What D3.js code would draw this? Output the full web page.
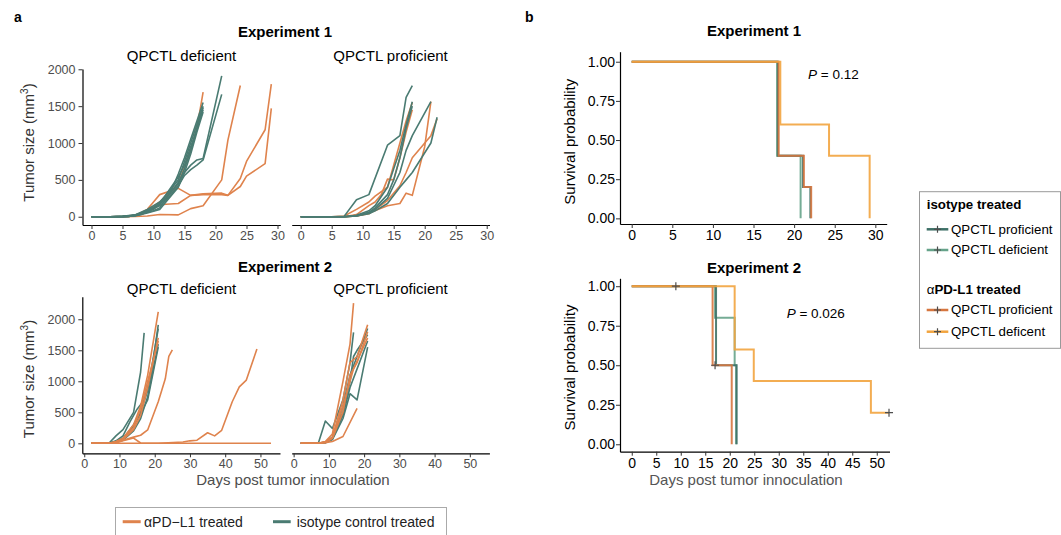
<!DOCTYPE html>
<html>
<head>
<meta charset="utf-8">
<script src="https://cdn.jsdelivr.net/npm/d3@7"></script>
<style>
  body { margin: 0; background: #fff; }
  svg { font-family: "Liberation Sans", Arial, sans-serif; }
</style>
</head>
<body>
<div id="container"></div>
<script>
// ---- tick labels ----
const daysTicksExp1 = [0, 5, 10, 15, 20, 25, 30];
const daysTicksExp2 = [0, 10, 20, 30, 40, 50];
const sizeTicks = [0, 500, 1000, 1500, 2000];
const survTicks = [0, 0.25, 0.5, 0.75, 1];
const survDaysExp1 = [0, 5, 10, 15, 20, 25, 30];
const survDaysExp2 = [0, 5, 10, 15, 20, 25, 30, 35, 40, 45, 50];

// ---- tumor growth, [day, mm3] per mouse ----
const exp1DefAnti = [
  [[0,0],[3,0],[5,5],[7,20],[9,80],[11,200],[12,280],[14,450],[16,900],[17,1200],[18,1690]],
  [[0,0],[3,0],[5,0],[7,5],[9,10],[11,30],[14,25],[16,110],[18,150],[21,500],[22,1040],[24,1780]],
  [[0,0],[5,0],[7,10],[9,60],[11,160],[12,170],[14,180],[16,290],[18,300],[21,300],[22,290],[24,520],[25,750],[28,1180],[29,1800]],
  [[0,0],[5,0],[7,10],[9,100],[10,200],[11,300],[14,385],[16,290],[18,310],[21,320],[22,290],[24,410],[25,550],[28,720],[29,1470]]
];
const exp1DefIso = [
  [[0,0],[3,0],[5,5],[7,20],[9,80],[10,120],[11,170],[12,250],[13,380],[14,580],[15,800],[16,1050],[17,1300],[18,1550]],
  [[0,0],[3,0],[5,5],[7,25],[9,100],[10,150],[11,200],[12,290],[14,500],[15,750],[16,1000],[17,1250],[18,1500]],
  [[0,0],[3,0],[5,0],[7,15],[9,60],[10,80],[11,120],[12,240],[13,350],[14,450],[15,650],[16,900],[17,1200],[18,1450]],
  [[0,0],[3,0],[6,5],[8,40],[10,100],[11,180],[12,300],[14,540],[15,700],[16,950],[17,1180],[18,1480]],
  [[0,0],[5,0],[7,10],[9,50],[11,100],[12,200],[14,400],[15,600],[16,850],[17,1150],[18,1420]],
  [[0,0],[3,0],[6,5],[8,40],[9,90],[10,130],[11,180],[12,260],[13,350],[14,470],[15,600],[16,700],[17,770],[18,790],[21,1910]],
  [[0,0],[3,0],[6,5],[8,30],[9,70],[10,110],[11,150],[12,220],[13,320],[14,420],[15,560],[16,640],[17,700],[18,770],[21,1660]]
];
const exp1ProfAnti = [
  [[0,0],[5,0],[7,10],[9,100],[11,200],[12,280],[14,400],[15,700],[16,1000],[17,1300],[18,1550]],
  [[0,0],[5,0],[7,0],[9,30],[11,150],[12,200],[13,300],[14,510],[15,500],[16,800],[17,1150],[18,1450]],
  [[0,0],[5,0],[7,0],[9,10],[11,50],[14,150],[16,180],[17,320],[18,290],[20,950],[21,1560]],
  [[0,0],[5,0],[7,0],[9,10],[11,40],[14,220],[16,420],[17,600],[18,800],[21,1100],[22,1330]]
];
const exp1ProfIso = [
  [[0,0],[5,0],[7,5],[9,230],[11,300],[14,970],[16,1100],[17,1620],[18,1780]],
  [[0,0],[5,0],[7,0],[9,20],[11,80],[12,150],[14,400],[15,650],[16,900],[17,1250],[18,1560]],
  [[0,0],[5,0],[7,0],[9,15],[11,60],[12,120],[14,300],[15,500],[16,800],[17,1200],[18,1500]],
  [[0,0],[5,0],[7,0],[9,10],[11,50],[12,100],[14,250],[16,600],[17,900],[18,1100],[21,1560]],
  [[0,0],[5,0],[7,0],[9,10],[11,40],[12,80],[14,180],[16,400],[17,500],[18,600],[21,1000],[22,1350]]
];
const exp2DefIso = [
  [[2,0],[7,0],[9,120],[11,220],[14,500],[16,1150],[17,1780]],
  [[2,0],[7,0],[9,40],[11,120],[13,350],[15,550],[17,700],[19,1100],[21,1910]],
  [[2,0],[7,0],[9,30],[11,80],[14,280],[16,500],[18,850],[21,1850]],
  [[2,0],[7,0],[9,20],[11,50],[14,200],[16,400],[18,750],[21,1600]],
  [[2,0],[7,0],[9,15],[11,60],[14,300],[16,480],[18,700],[21,1550]]
];
const exp2DefAnti = [
  [[2,0],[7,0],[9,30],[11,80],[14,300],[16,600],[18,1100],[21,2120]],
  [[2,0],[7,0],[9,20],[11,60],[14,220],[16,450],[18,900],[21,1700]],
  [[2,0],[7,0],[9,20],[11,70],[14,250],[16,550],[18,1000],[21,1650]],
  [[2,0],[7,0],[9,10],[11,50],[14,100],[16,130],[18,215],[21,670],[23,1040],[24,1400],[25,1505]],
  [[2,0],[9,10],[11,40],[14,85],[16,5],[21,0],[53,0]],
  [[2,0],[14,0],[21,0],[28,20],[30,40],[32,50],[35,170],[37,120],[39,210],[42,670],[44,910],[46,1020],[49,1520]]
];
const exp2ProfIso = [
  [[2,0],[7,0],[9,360],[11,240],[14,700],[16,1300],[17,1790]],
  [[2,0],[7,0],[9,20],[11,100],[14,500],[16,1000],[17,1400],[18,1500],[21,1750]],
  [[2,0],[7,0],[9,10],[11,60],[14,400],[16,800],[18,700],[21,1550]],
  [[2,0],[7,0],[9,10],[11,80],[14,450],[16,900],[18,1200],[21,1650]],
  [[2,0],[7,0],[9,15],[11,70],[14,600],[16,1100],[17,1250],[21,1850]]
];
const exp2ProfAnti = [
  [[2,0],[7,0],[9,30],[11,150],[14,1000],[16,1600],[17,2260]],
  [[2,0],[7,0],[9,20],[11,100],[14,700],[16,1300],[18,1400],[21,1910]],
  [[2,0],[7,0],[9,10],[11,80],[14,500],[16,1100],[18,1300],[21,1800]],
  [[2,0],[7,0],[9,20],[11,90],[14,600],[16,1000],[17,1200],[21,1700]],
  [[2,0],[7,0],[9,10],[11,30],[14,110],[18,565]]
];

// ---- survival steps, [day, probability] ----
const km1IsoDef = [[0,1],[17.9,0.4],[20.8,0]];
const km1IsoProf = [[0,1],[18,0.4],[21.1,0.2],[22,0]];
const km1AntiProf = [[0,1],[18.1,0.4],[21.2,0.2],[22.1,0]];
const km1AntiDef = [[0,1],[18.3,0.6],[24.3,0.4],[29.3,0]];
const km2IsoDef = [[0,1],[17.0,0.8],[21.0,0.5],[21.3,0]];
const km2IsoProf = [[0,1],[17.2,0.5],[21.4,0]];
const km2AntiProf = [[0,1],[16.5,0.5],[20.4,0]];
const km2AntiDef = [[0,1],[21,0.6],[24.9,0.4],[48.8,0.2],[52.5,0.2]];
const km2Censored = [[9,1],[17,0.5],[52.5,0.2]];

const ORANGE = "#df834d", TEAL = "#4a7b72";
const C_ISO_PROF = "#3e7067", C_ISO_DEF = "#66a38a", C_ANTI_PROF = "#d6763f", C_ANTI_DEF = "#f2a43f";
const FONT = '"Liberation Sans", Arial, sans-serif';

const svg = d3.select("#container").append("svg")
    .attr("width", 1061).attr("height", 535);

function text(x, y, str, opts = {}) {
  return svg.append("text").attr("x", x).attr("y", y)
    .attr("text-anchor", opts.anchor || "middle")
    .attr("font-size", opts.size || 15)
    .attr("font-weight", opts.bold ? "bold" : null)
    .attr("fill", opts.fill || "#000")
    .text(str);
}

function axisX(scale, ticks, y, size, color) {
  const g = svg.append("g").attr("transform", `translate(0,${y})`)
    .call(d3.axisBottom(scale).tickValues(ticks).tickSize(4).tickPadding(2).tickSizeOuter(0));
  g.attr("font-family", FONT).attr("font-size", size);
  g.select(".domain").attr("stroke", "#000").attr("stroke-width", 1.2);
  g.selectAll(".tick line").attr("stroke", "#333");
  g.selectAll(".tick text").attr("fill", color);
}

function axisY(scale, ticks, x, size, color, fmt, pad) {
  const g = svg.append("g").attr("transform", `translate(${x},0)`)
    .call(d3.axisLeft(scale).tickValues(ticks).tickSize(4).tickPadding(pad).tickSizeOuter(0).tickFormat(fmt));
  g.attr("font-family", FONT).attr("font-size", size);
  g.select(".domain").attr("stroke", "#000").attr("stroke-width", 1.2);
  g.selectAll(".tick line").attr("stroke", "#333");
  g.selectAll(".tick text").attr("fill", color);
}

function yTitle(x, y, content) {
  const t = svg.append("text").attr("transform", `translate(${x},${y}) rotate(-90)`)
    .attr("text-anchor", "middle").attr("font-size", 15).attr("fill", "#333");
  content(t);
}

function growth(curves, xs, ys, color) {
  const line = d3.line().x(d => xs(d[0])).y(d => ys(d[1]));
  svg.append("g").selectAll("path").data(curves).join("path")
    .attr("d", line).attr("fill", "none")
    .attr("stroke", color).attr("stroke-width", 1.6).attr("stroke-linejoin", "round");
}

function cross(g, x, y, s) {
  g.append("path").attr("d", `M${x - s},${y}H${x + s}M${x},${y - s}V${y + s}`)
    .attr("stroke", "#4d4d4d").attr("stroke-width", 1.2);
}

// ================= panel a =================
text(14, 22, "a", {anchor: "start", size: 14, bold: true});
const xa1L = d3.scaleLinear().domain([-1.45, 30.45]).range([82.5, 280.3]);
const xa1R = d3.scaleLinear().domain([-1.45, 30.45]).range([291.7, 489.5]);
const ya1 = d3.scaleLinear().domain([-112, 2004]).range([225, 69]);
const xa2L = d3.scaleLinear().domain([-0.55, 55.55]).range([82.3, 280]);
const xa2R = d3.scaleLinear().domain([-0.55, 55.55]).range([291.7, 489.4]);
const ya2 = d3.scaleLinear().domain([-161, 2364]).range([453.3, 296.7]);

text(285, 37, "Experiment 1", {bold: true});
text(181.5, 61, "QPCTL deficient");
text(390.5, 61, "QPCTL proficient");
text(285, 272, "Experiment 2", {bold: true});
text(181.5, 294, "QPCTL deficient");
text(390.5, 294, "QPCTL proficient");

axisY(ya1, sizeTicks, 82.5, 12.5, "#4d4d4d", d3.format("d"), 3);
axisX(xa1L, daysTicksExp1, 225, 12.5, "#4d4d4d");
axisX(xa1R, daysTicksExp1, 225, 12.5, "#4d4d4d");
axisY(ya2, sizeTicks, 82.3, 12.5, "#4d4d4d", d3.format("d"), 3);
axisX(xa2L, daysTicksExp2, 453.3, 12.5, "#4d4d4d");
axisX(xa2R, daysTicksExp2, 453.3, 12.5, "#4d4d4d");

growth(exp1DefAnti, xa1L, ya1, ORANGE);
growth(exp1DefIso, xa1L, ya1, TEAL);
growth(exp1ProfAnti, xa1R, ya1, ORANGE);
growth(exp1ProfIso, xa1R, ya1, TEAL);
growth(exp2DefIso, xa2L, ya2, TEAL);
growth(exp2DefAnti, xa2L, ya2, ORANGE);
growth(exp2ProfIso, xa2R, ya2, TEAL);
growth(exp2ProfAnti, xa2R, ya2, ORANGE);

const tumorTitle = t => {
  t.append("tspan").text("Tumor size (mm");
  t.append("tspan").attr("dy", -6).attr("font-size", 10).text("3");
  t.append("tspan").attr("dy", 6).text(")");
};
yTitle(34, 142.5, tumorTitle);
yTitle(34, 379, tumorTitle);
text(293, 485, "Days post tumor innoculation", {fill: "#4d4d4d"});

// bottom legend
svg.append("rect").attr("x", 115.5).attr("y", 507.5).attr("width", 331).attr("height", 40)
  .attr("fill", "#fff").attr("stroke", "#aaa").attr("stroke-width", 1);
svg.append("line").attr("x1", 122.7).attr("x2", 140.7).attr("y1", 521.7).attr("y2", 521.7)
  .attr("stroke", ORANGE).attr("stroke-width", 3);
text(144, 527, "αPD\u2212L1 treated", {anchor: "start", size: 14, fill: "#222"});
svg.append("line").attr("x1", 273).attr("x2", 290.7).attr("y1", 521.7).attr("y2", 521.7)
  .attr("stroke", TEAL).attr("stroke-width", 3);
text(296.7, 527, "isotype control treated", {anchor: "start", size: 14, fill: "#222"});

// ================= panel b =================
text(525, 22, "b", {anchor: "start", size: 14, bold: true});
const xb1 = d3.scaleLinear().domain([-1.44, 31.4]).range([620, 886.7]);
const yb1 = d3.scaleLinear().domain([-0.036, 1.064]).range([224, 51.7]);
const xb2 = d3.scaleLinear().domain([-2.4, 52.6]).range([620, 889.5]);
const yb2 = d3.scaleLinear().domain([-0.047, 1.05]).range([451.7, 278.3]);

text(754, 36, "Experiment 1", {bold: true});
text(754, 273, "Experiment 2", {bold: true});

axisY(yb1, survTicks, 620, 14, "#000", d3.format(".2f"), 1);
axisX(xb1, survDaysExp1, 224, 14, "#000");
axisY(yb2, survTicks, 620, 14, "#000", d3.format(".2f"), 1);
axisX(xb2, survDaysExp2, 451.7, 14, "#000");

function km(steps, xs, ys, color) {
  const line = d3.line().x(d => xs(d[0])).y(d => ys(d[1])).curve(d3.curveStepAfter);
  svg.append("path").datum(steps).attr("d", line).attr("fill", "none")
    .attr("stroke", color).attr("stroke-width", 2).attr("stroke-opacity", 0.9);
}
km(km1IsoDef, xb1, yb1, C_ISO_DEF);
km(km1IsoProf, xb1, yb1, C_ISO_PROF);
km(km1AntiProf, xb1, yb1, C_ANTI_PROF);
km(km1AntiDef, xb1, yb1, C_ANTI_DEF);
km(km2IsoDef, xb2, yb2, C_ISO_DEF);
km(km2IsoProf, xb2, yb2, C_ISO_PROF);
km(km2AntiProf, xb2, yb2, C_ANTI_PROF);
km(km2AntiDef, xb2, yb2, C_ANTI_DEF);
const cg = svg.append("g");
km2Censored.forEach(d => cross(cg, xb2(d[0]), yb2(d[1]), 4));

const pText = (x, y, val) => {
  const t = svg.append("text").attr("x", x).attr("y", y).attr("font-size", 13.5);
  t.append("tspan").attr("font-style", "italic").text("P");
  t.append("tspan").text(" = " + val);
};
pText(808, 79.3, "0.12");
pText(786.7, 318.3, "0.026");

yTitle(575, 141.7, t => t.attr("fill", "#000").text("Survival probability"));
yTitle(575, 367.5, t => t.attr("fill", "#000").text("Survival probability"));
text(746, 485, "Days post tumor innoculation", {fill: "#555"});

// right legend
svg.append("rect").attr("x", 919.5).attr("y", 191.7).attr("width", 141).attr("height", 156.6)
  .attr("fill", "#fff").attr("stroke", "#999").attr("stroke-width", 1);
text(926.7, 208.5, "isotype treated", {anchor: "start", size: 13.3, bold: true});
const at = svg.append("text").attr("x", 926.7).attr("y", 293.5).attr("font-size", 13.3);
at.append("tspan").text("α");
at.append("tspan").attr("font-weight", "bold").text("PD-L1 treated");
const legendItems = [
  {y: 229.3, color: C_ISO_PROF, label: "QPCTL proficient"},
  {y: 250, color: C_ISO_DEF, label: "QPCTL deficient"},
  {y: 310, color: C_ANTI_PROF, label: "QPCTL proficient"},
  {y: 331.7, color: C_ANTI_DEF, label: "QPCTL deficent"}
];
legendItems.forEach(it => {
  svg.append("line").attr("x1", 926.7).attr("x2", 948.3).attr("y1", it.y).attr("y2", it.y)
    .attr("stroke", it.color).attr("stroke-width", 2.5);
  cross(svg, 937.5, it.y, 3.5);
  text(951, it.y + 4.3, it.label, {anchor: "start", size: 13.3});
});
</script>
</body>
</html>
